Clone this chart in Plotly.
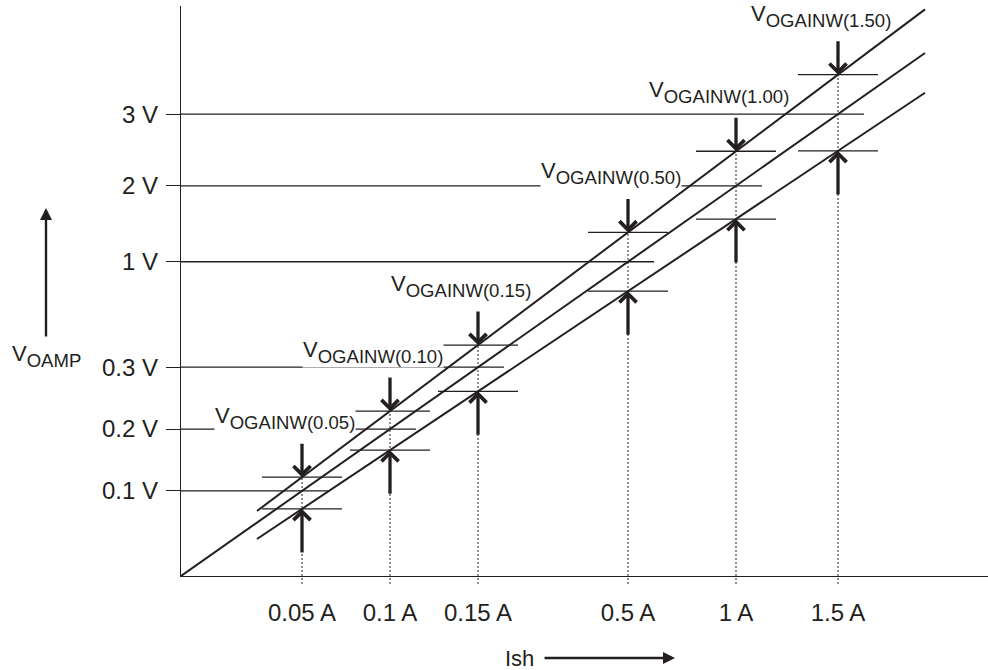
import plotly.graph_objects as go

INK = "#231f20"
FONT = "Liberation Sans, Arial, sans-serif"

# ---- data -------------------------------------------------------------
current_labels = ["0.05 A", "0.1 A", "0.15 A", "0.5 A", "1 A", "1.5 A"]
gain_labels = ["0.05", "0.10", "0.15", "0.50", "1.00", "1.50"]
voltage_labels = ["0.1 V", "0.2 V", "0.3 V", "1 V", "2 V", "3 V"]
# schematic (non-linear) axis position of each shunt current
current_axis = [1.21, 2.09, 2.97, 4.47, 5.55, 6.57]
# whether a gain label sits on (and interrupts) a voltage reference line
label_on_line = [True, True, False, True, True, False]

# gain lines: [start x, start y, slope]
nominal_line = [0.0, 0.0, 0.703]
high_line = [0.76, 0.65, 0.751]
low_line = [0.76, 0.37, 0.668]
line_end = 7.44


def on(line, x):
    return line[1] + line[2] * (x - line[0])


voltage_axis = [on(nominal_line, x) for x in current_axis]
high_pts = [on(high_line, x) for x in current_axis]
low_pts = [on(low_line, x) for x in current_axis]

# ---- figure -----------------------------------------------------------
W, H = 988, 670
ML, MR, MT, MB = 181, 0, 6, 94
PW, PH = W - ML - MR, H - MT - MB


def paper_x(p):
    return (p - ML) / PW


def paper_y(p):
    return (H - MB - p) / PH


fig = go.Figure()

# diagonal gain lines
for ln in [high_line, nominal_line, low_line]:
    fig.add_trace(go.Scatter(
        x=[ln[0], line_end], y=[ln[1], on(ln, line_end)], mode="lines",
        line=dict(color=INK, width=2), hoverinfo="skip", showlegend=False))

# horizontal voltage lines (from the axis to the nominal point)
hx, hy = [], []
for x, v in zip(current_axis, voltage_axis):
    hx += [0, x + 0.26, None]
    hy += [v, v, None]
# short limit bars at the high/low gain points
for x, hi, lo in zip(current_axis, high_pts, low_pts):
    hx += [x - 0.4, x + 0.4, None, x - 0.4, x + 0.4, None]
    hy += [hi, hi, None, lo, lo, None]
fig.add_trace(go.Scatter(x=hx, y=hy, mode="lines",
                         line=dict(color=INK, width=1.3),
                         hoverinfo="skip", showlegend=False))

shapes = []
for x, hi in zip(current_axis, high_pts):
    shapes.append(dict(type="line", xref="x", yref="y", x0=x, x1=x, y0=0, y1=hi,
                       line=dict(color=INK, width=1, dash="2px,2px"), layer="below"))
    shapes.append(dict(type="line", xref="x", yref="paper", x0=x, x1=x,
                       y0=-8 / PH, y1=0,
                       line=dict(color=INK, width=1, dash="2px,2px")))

annotations = []
for x, hi, lo, g, bg in zip(current_axis, high_pts, low_pts, gain_labels,
                            label_on_line):
    annotations.append(dict(x=x, y=hi, xref="x", yref="y", ax=0, ay=-35,
                            text="", showarrow=True, arrowhead=4, arrowsize=1.0,
                            arrowwidth=3.3, arrowcolor=INK, standoff=0))
    annotations.append(dict(x=x, y=lo, xref="x", yref="y", ax=0, ay=45,
                            text="", showarrow=True, arrowhead=4, arrowsize=1.0,
                            arrowwidth=3.3, arrowcolor=INK, standoff=0))
    annotations.append(dict(
        x=x, y=hi, xref="x", yref="y", xanchor="left", yanchor="bottom",
        xshift=-88, yshift=43, showarrow=False,
        bgcolor="white" if bg else "rgba(0,0,0,0)", borderpad=0,
        text="<span style='font-size:22px'>V</span><sub>OGAINW(" + g + ")</sub>",
        font=dict(family=FONT, size=26.5, color=INK)))

# axis titles with arrows
annotations.append(dict(x=paper_x(46), y=paper_y(208), xref="paper", yref="paper",
                        ax=0, ay=130, text="", showarrow=True, arrowhead=2,
                        arrowsize=1, arrowwidth=2.4, arrowcolor=INK, standoff=0))
annotations.append(dict(x=paper_x(10), y=paper_y(356), xref="paper", yref="paper",
                        xanchor="left", yanchor="middle", showarrow=False,
                        text="<span style='font-size:22px'>V</span><sub>OAMP</sub>",
                        font=dict(family=FONT, size=26.5, color=INK)))
annotations.append(dict(x=paper_x(675), y=paper_y(658), xref="paper", yref="paper",
                        ax=-132, ay=0, text="", showarrow=True, arrowhead=2,
                        arrowsize=1, arrowwidth=2.4, arrowcolor=INK, standoff=0))
annotations.append(dict(x=paper_x(503), y=paper_y(658), xref="paper", yref="paper",
                        xanchor="left", yanchor="middle", showarrow=False,
                        text="Ish", font=dict(family=FONT, size=22, color=INK)))

fig.update_layout(
    width=W, height=H, margin=dict(l=ML, r=MR, t=MT, b=MB),
    paper_bgcolor="white", plot_bgcolor="white",
    font=dict(family=FONT, color=INK, size=24),
    shapes=shapes, annotations=annotations, showlegend=False,
    xaxis=dict(range=[0, PW / 100], showgrid=False, zeroline=False,
               showline=True, linecolor=INK, linewidth=1.3,
               tickvals=current_axis, ticktext=current_labels, ticks="",
               ticklabelstandoff=15, tickfont=dict(size=24, color=INK)),
    yaxis=dict(range=[0, PH / 100], showgrid=False, zeroline=False,
               showline=True, linecolor=INK, linewidth=1.3,
               tickvals=voltage_axis, ticktext=voltage_labels, ticks="outside",
               ticklen=14, tickwidth=1.3, tickcolor=INK, ticklabelstandoff=3,
               tickfont=dict(size=24, color=INK)),
)

fig.write_html("out.html",
               config={"displayModeBar": False},
               post_script="document.body.style.margin='0';"
                           "document.body.style.overflow='hidden';")
